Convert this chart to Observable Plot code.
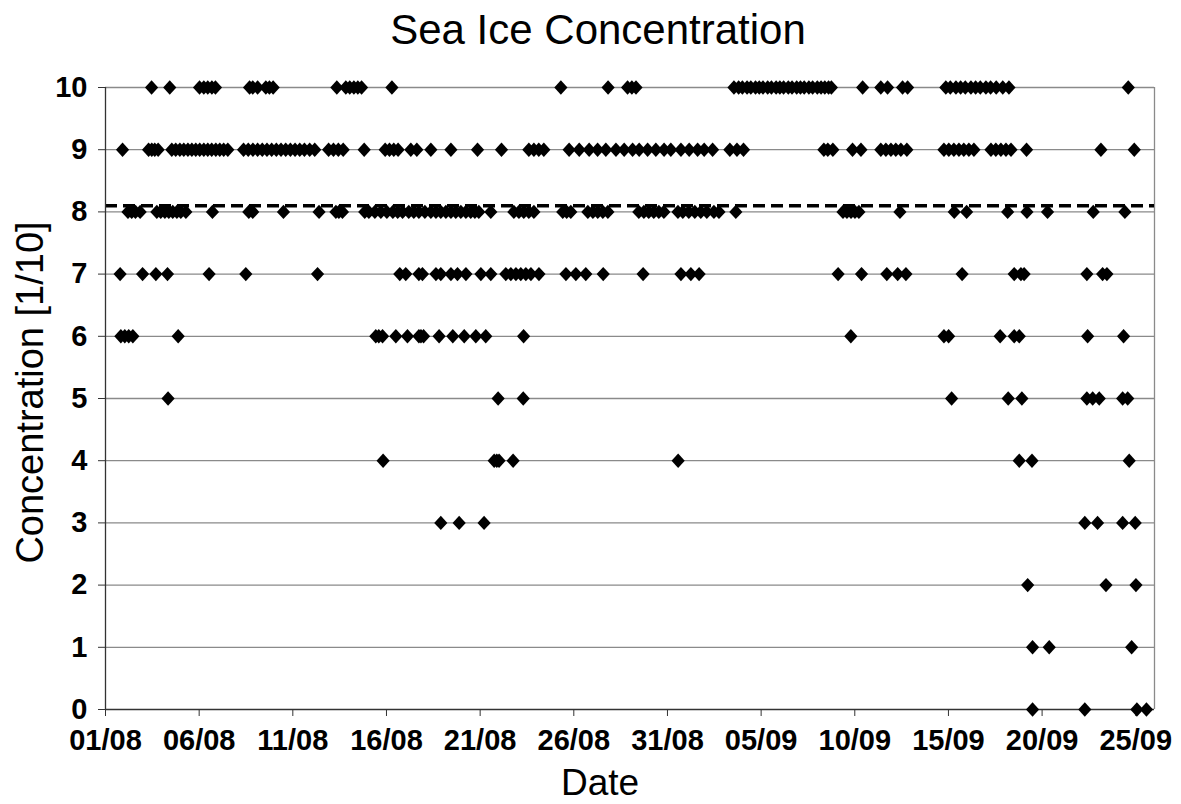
<!DOCTYPE html>
<html>
<head>
<meta charset="utf-8">
<script src="https://cdn.jsdelivr.net/npm/d3@7"></script>
<script src="https://cdn.jsdelivr.net/npm/@observablehq/plot@0.6"></script>
<style>
  html, body { margin: 0; padding: 0; background: #fff; }
  #title { height: 60px; line-height: 60px; font-family: "Liberation Sans", Arial, sans-serif; font-size: 42px; color: #000; position: relative; }
  #title span { position: absolute; left: 598px; transform: translateX(-50%); white-space: nowrap; }
</style>
</head>
<body>
<div id="title"><span>Sea Ice Concentration</span></div>
<div id="chart"></div>
<script>
// Days since 01/08 (fractional) of each observation, grouped by concentration (tenths)
const c10 = [2.46, 3.43, 5.02, 5.25, 5.46, 5.68, 5.87, 7.69, 7.86, 8.12, 8.56, 8.75, 8.95, 12.35, 12.83, 13.04, 13.26, 13.47, 13.67, 15.29, 24.31, 26.83, 27.87, 28.1, 28.32, 33.55, 33.8, 34.0, 34.25, 34.45, 34.7, 34.9, 35.1, 35.35, 35.55, 35.8, 36.0, 36.2, 36.45, 36.65, 36.9, 37.1, 37.3, 37.55, 37.75, 38.0, 38.2, 38.4, 38.6, 38.75, 40.42, 41.39, 41.75, 42.55, 42.82, 44.86, 45.1, 45.4, 45.65, 45.9, 46.2, 46.45, 46.7, 47.0, 47.25, 47.55, 47.9, 48.23, 54.6];
const c9 = [0.91, 2.30, 2.47, 2.63, 2.81, 3.54, 3.75, 3.97, 4.18, 4.4, 4.61, 4.82, 5.03, 5.25, 5.46, 5.67, 5.89, 6.1, 6.31, 6.53, 7.37, 7.62, 7.87, 8.12, 8.37, 8.62, 8.87, 9.12, 9.37, 9.62, 9.87, 10.12, 10.37, 10.62, 10.9, 11.17, 11.91, 12.17, 12.43, 12.69, 13.81, 14.93, 15.16, 15.39, 15.62, 16.3, 16.62, 17.37, 18.44, 19.86, 21.14, 22.6, 22.87, 23.13, 23.4, 24.75, 25.29, 25.82, 26.27, 26.71, 27.25, 27.69, 28.14, 28.49, 28.94, 29.38, 29.82, 30.18, 30.72, 31.16, 31.61, 31.96, 32.41, 33.33, 33.71, 34.06, 38.35, 38.56, 38.83, 39.88, 40.33, 41.39, 41.66, 41.93, 42.19, 42.46, 42.78, 44.76, 45.02, 45.29, 45.56, 45.82, 46.09, 46.36, 47.27, 47.53, 47.8, 48.07, 48.34, 49.17, 53.14, 54.92];
const c8 = [1.2, 1.4, 1.6, 1.85, 2.74, 2.95, 3.17, 3.38, 3.59, 3.81, 4.02, 4.29, 5.71, 7.65, 7.86, 9.5, 11.4, 12.3, 12.46, 12.65, 13.84, 14.06, 14.38, 14.7, 15.02, 15.34, 15.6, 15.86, 16.19, 16.46, 16.73, 17.05, 17.37, 17.64, 17.9, 18.17, 18.44, 18.7, 18.97, 19.24, 19.5, 19.72, 19.93, 20.57, 21.8, 22.07, 22.33, 22.6, 22.87, 24.41, 24.62, 24.84, 25.75, 26.02, 26.28, 26.55, 26.82, 28.47, 28.74, 29.0, 29.27, 29.54, 29.81, 30.56, 30.82, 31.14, 31.46, 31.78, 32.1, 32.48, 32.75, 33.65, 39.37, 39.58, 39.8, 40.01, 40.22, 42.41, 45.31, 45.97, 48.16, 49.19, 50.29, 52.73, 54.42];
const c7 = [0.78, 1.98, 2.69, 3.31, 5.53, 7.49, 11.32, 15.71, 16.03, 16.73, 16.92, 17.64, 17.9, 18.44, 18.79, 19.24, 20.04, 20.57, 21.37, 21.64, 21.91, 22.17, 22.44, 22.71, 23.14, 24.58, 25.11, 25.64, 26.57, 28.7, 30.72, 31.25, 31.69, 39.11, 40.36, 41.71, 42.29, 42.73, 45.73, 48.51, 48.87, 49.04, 52.39, 53.23, 53.46];
const c6 = [0.82, 1.03, 1.24, 1.46, 3.88, 14.43, 14.59, 14.79, 15.5, 16.12, 16.73, 16.84, 16.98, 17.81, 18.54, 19.15, 19.77, 20.3, 22.32, 39.79, 44.76, 45.01, 47.76, 48.51, 48.78, 52.43, 54.35];
const c5 = [3.34, 20.96, 22.3, 45.17, 48.19, 48.92, 52.39, 52.7, 53.05, 54.3, 54.57];
const c4 = [14.82, 20.75, 20.89, 21.01, 21.76, 30.57, 48.78, 49.46, 54.65];
const c3 = [17.9, 18.88, 20.21, 52.28, 52.96, 54.3, 54.97];
const c2 = [49.23, 53.41, 55.01];
const c1 = [49.49, 50.38, 54.78];
const c0 = [49.49, 52.28, 55.06, 55.57];

const threshold = 8.1;
const xTickDays = [0, 5, 10, 15, 20, 25, 30, 35, 40, 45, 50, 55];
const yTicks = [0, 1, 2, 3, 4, 5, 6, 7, 8, 9, 10];
const xEndDay = 56;

const origin = Date.UTC(2008, 7, 1);
const toDate = d => new Date(origin + d * 864e5);

const levels = [[0, c0], [1, c1], [2, c2], [3, c3], [4, c4], [5, c5], [6, c6], [7, c7], [8, c8], [9, c9], [10, c10]];
const data = levels.flatMap(([v, days]) => days.map(d => ({date: toDate(d), value: v})));

const diamond = {
  draw(ctx) {
    ctx.moveTo(0, -7.2);
    ctx.lineTo(6.6, 0);
    ctx.lineTo(0, 7.2);
    ctx.lineTo(-6.6, 0);
    ctx.closePath();
  }
};

const font = "'Liberation Sans', Arial, sans-serif";

const chart = Plot.plot({
  width: 1181,
  height: 744,
  marginTop: 27,
  marginBottom: 95,
  marginLeft: 105,
  marginRight: 27,
  style: {fontFamily: font, background: "#fff", color: "#000", overflow: "visible"},
  x: {type: "utc", domain: [toDate(0), toDate(xEndDay)]},
  y: {domain: [0, 10]},
  marks: [
    Plot.ruleY(yTicks.filter(t => t > 0), {stroke: "#8a8a8a", strokeWidth: 1.3}),
    Plot.ruleX([toDate(xEndDay)], {stroke: "#8a8a8a", strokeWidth: 1.3}),
    Plot.ruleY([threshold], {stroke: "#000", strokeWidth: 3.5, strokeDasharray: "12,6"}),
    Plot.axisX({ticks: xTickDays.map(toDate), tickFormat: d3.utcFormat("%d/%m"), tickSize: 7, tickPadding: 13,
      fontSize: 29, fontWeight: "bold", label: null, stroke: "#333"}),
    Plot.axisY({ticks: yTicks, tickSize: 7, tickPadding: 11, fontSize: 29, fontWeight: "bold", label: null, stroke: "#333"}),
    Plot.ruleX([toDate(0)], {stroke: "#333", strokeWidth: 1.3}),
    Plot.ruleY([0], {stroke: "#333", strokeWidth: 1.3}),
    Plot.dot(data, {x: "date", y: "value", symbol: diamond, fill: "#000", stroke: null}),
    Plot.text(["Concentration [1/10]"], {frameAnchor: "left", textAnchor: "middle", rotate: -90, dx: -75, dy: -6, fontSize: 38, fill: "#000"}),
    Plot.text(["Date"], {frameAnchor: "bottom", dx: -30, dy: 85, fontSize: 37, fill: "#000"})
  ]
});
document.getElementById("chart").appendChild(chart);
</script>
</body>
</html>
